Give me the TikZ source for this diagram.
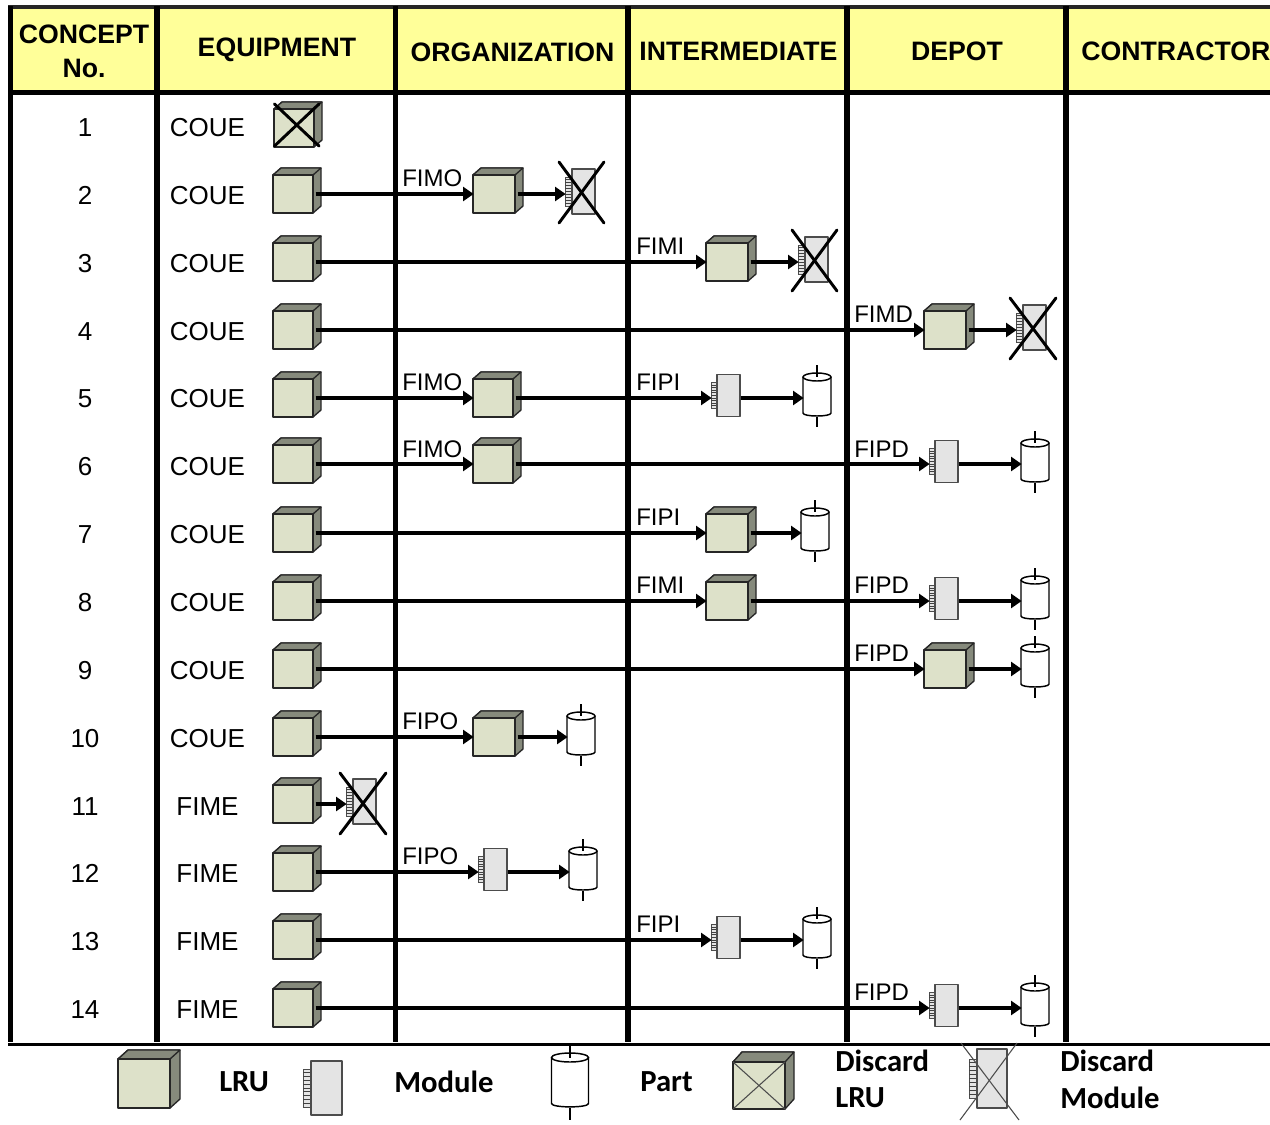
\documentclass[tikz,border=0pt]{standalone}
\usepackage{fontspec}
\setmainfont{Liberation Sans}
\newfontfamily\legendfont{Carlito}
\usetikzlibrary{arrows.meta}
\definecolor{hdr}{HTML}{FFFF99}
\definecolor{lrufront}{HTML}{DDE1C9}
\definecolor{lruside}{HTML}{868A7C}
\definecolor{modfill}{HTML}{E4E4E4}
\tikzset{
  x=0.75pt,y=-0.75pt,
  anchorbox/.style={inner sep=0pt,outer sep=0pt,anchor=north west},
  face/.style={draw=black!85,line width=1pt,line join=round},
  rule/.style={line width=4.2pt,draw=black},
  conn/.style={line width=2.5pt,draw=black,-{Triangle[length=8pt,width=10.5pt]},shorten >=-0.5pt,shorten <=2pt},
  connm/.style={conn,shorten <=0.5pt},
  xbig/.style={line width=2.2pt,line cap=round,draw=black},
  xthin/.style={line width=0.8pt,draw=black!70},
  headtxt/.style={font=\bfseries\fontsize{20}{22}\selectfont,inner sep=0pt},
  celltxt/.style={font=\fontsize{19.5}{22}\selectfont,inner sep=0pt},
  flow/.style={font=\fontsize{18}{20}\selectfont,inner sep=0pt,anchor=west},
  legendtxt/.style={font=\legendfont\bfseries\fontsize{23}{24}\selectfont,inner sep=0pt,anchor=west},
}
% name, x, ytop, front w, front h, depth x, depth y
\newcommand{\lruicon}[7]{%
  \node[anchorbox,minimum width=#4*0.75pt,minimum height=#5*0.75pt] (#1) at (#2,#3+#7) {};
  \draw[face,fill=lruside] (#2,#3+#7) -- ++(#6,-#7) -- ++(#4,0) -- ++(0,#5) -- ++(-#6,#7) -- ++(0,-#5) -- cycle;
  \draw[face,fill=lruside] (#2,#3+#7) -- ++(#6,-#7) -- ++(#4,0) -- ++(-#6,#7) -- cycle;
  \draw[face,fill=lrufront] (#2,#3+#7) rectangle ++(#4,#5);
}
\newcommand{\lrusmall}[3]{\lruicon{#1}{#2}{#3}{40}{38}{8}{7}}
\newcommand{\lrumid}[3]{\lruicon{#1}{#2}{#3}{42}{38}{8}{7}}
% name, body x, ytop, w, h, comb w, comb inset
\newcommand{\modicon}[7]{%
  \node[anchorbox,minimum width=#4*0.75pt+#6*0.75pt,minimum height=#5*0.75pt+3.75pt] (#1) at (#2-#6,#3) {};
  \draw[draw=black!70,line width=0.7pt,fill=modfill] (#2-#6,#3+#7) rectangle (#2,#3+#5-#7);
  \foreach \k in {1,...,9} {\draw[draw=black!75,line width=0.7pt] (#2-#6,{#3+#7+\k*(#5-2*#7)/10}) -- (#2,{#3+#7+\k*(#5-2*#7)/10});}
  \draw[face,draw=black!70,fill=modfill] (#2,#3) rectangle ++(#4,#5);
}
\newcommand{\modsmall}[3]{\modicon{#1}{#2}{#3}{23}{42}{6}{8}}
% name, cx, ytop, half w, side h, ry, stem
\newcommand{\particon}[7]{%
  \node[anchorbox,minimum width=2*#4*0.75pt,minimum height=50*0.75pt] (#1) at (#2-#4,#3) {};
  \draw[line width=1.1pt,fill=white] (#2-#4,#3+#6) -- (#2-#4,#3+#6+#5)
     .. controls (#2-#4,#3+#5+2*#6) and (#2+#4,#3+#5+2*#6) .. (#2+#4,#3+#6+#5) -- (#2+#4,#3+#6);
  \draw[line width=1.1pt,fill=white] (#2,#3+#6) ellipse [x radius=#4,y radius=#6];
  \draw[line width=0.9pt] (#2,#3-#7) -- (#2,#3+#6);
  \draw[line width=0.9pt] (#2,#3+#5+2*#6) -- (#2,#3+#5+2*#6+#7+2);
}
\newcommand{\partsmall}[3]{\particon{#1}{#2}{#3}{14}{36}{4}{8}}
\newcommand{\bigx}[4]{\draw[xbig] (#1,#2) -- (#3,#4); \draw[xbig] (#1,#4) -- (#3,#2);}
\begin{document}
\begin{tikzpicture}
\useasboundingbox (0,0) rectangle (1270,1124);
\fill[white] (0,0) rectangle (1270,1124);
% header band
\fill[hdr] (10,9) rectangle (1270,92);
\draw[line width=3.6pt,draw=black!85] (8,7) -- (1270,7);
\draw[rule] (8,92.5) -- (1270,92.5);
% columns
\foreach \cx in {10.5,157,395.5,628,847,1066} {\draw[rule] (\cx,6) -- (\cx,1042);}
\draw[line width=1.6pt] (8,1044.5) -- (1270,1044.5);
% header text
\node[headtxt] (h1a) at (84,34.5) {CONCEPT};
\node[headtxt] (h1b) at (84,68.5) {No.};
\node[headtxt] (h2) at (277,49.5) {EQUIPMENT};
\node[headtxt] (h3) at (512.5,52) {ORGANIZATION};
\node[headtxt] (h4) at (738.5,51.5) {INTERMEDIATE};
\node[headtxt] (h5) at (957,51.5) {DEPOT};
\node[headtxt,anchor=west] (h6) at (1081,51.5) {CONTRACTOR};
% row numbers and equipment names
\foreach \n/\yy/\eq in {1/127.7/COUE,2/195.7/COUE,3/263.7/COUE,4/331.7/COUE,5/398.7/COUE,6/466.7/COUE,7/534.7/COUE,8/602.7/COUE,9/670.7/COUE,10/738.7/COUE,11/806.7/FIME,12/873.7/FIME,13/941.7/FIME,14/1009.7/FIME} {
  \node[celltxt] (num\n) at (85,\yy) {\n};
  \node[celltxt] (eq\n) at (207.5,\yy) {\eq};
}
% source LRUs
\lrusmall{s1}{274}{102}
\lrusmall{s2}{273}{168}
\lrusmall{s3}{273}{236}
\lrusmall{s4}{273}{304}
\lrusmall{s5}{273}{372}
\lrusmall{s6}{273}{438}
\lrusmall{s7}{273}{507}
\lrusmall{s8}{273}{575}
\lrusmall{s9}{273}{643}
\lrusmall{s10}{273}{711}
\lrusmall{s11}{273}{778}
\lrusmall{s12}{273}{846}
\lrusmall{s13}{273}{914}
\lrusmall{s14}{273}{982}
% intermediate LRUs
\lrumid{a2}{473}{168}
\lrumid{a3}{706}{236}
\lrumid{a4}{924}{304}
\lrusmall{a5}{473}{372}
\lrusmall{a6}{473}{438}
\lrumid{a7}{706}{507}
\lrumid{a8}{706}{575}
\lrumid{a9}{924}{643}
\lrumid{a10}{473}{711}
% modules
\modicon{d2}{572}{169}{23}{45}{7}{8}
\modicon{d3}{805}{237}{23}{45}{7}{8}
\modicon{d4}{1023}{305}{23}{45}{7}{8}
\modicon{d11}{353}{779}{23}{45}{7}{8}
\modsmall{m5}{717}{374.5}
\modsmall{m6}{935}{440.5}
\modsmall{m8}{935}{577.5}
\modsmall{m12}{484}{848.5}
\modsmall{m13}{717}{916.5}
\modsmall{m14}{935}{984.5}
% parts
\partsmall{p5}{817}{373}
\partsmall{p6}{1035}{439}
\partsmall{p7}{815}{508}
\partsmall{p8}{1035}{576}
\partsmall{p9}{1035}{644}
\partsmall{p10}{581}{712}
\partsmall{p12}{583}{847}
\partsmall{p13}{817}{915}
\partsmall{p14}{1035}{983}
% connectors
\draw[conn] (s2.east) -- (a2.west);
\draw[conn] (a2.east) -- (d2.west);
\draw[conn] (s3.east) -- (a3.west);
\draw[conn] (a3.east) -- (d3.west);
\draw[conn] (s4.east) -- (a4.west);
\draw[conn] (a4.east) -- (d4.west);
\draw[conn] (s5.east) -- (a5.west);
\draw[conn] (a5.east) -- (m5.west);
\draw[connm] (m5.east) -- (p5.west);
\draw[conn] (s6.east) -- (a6.west);
\draw[conn] (a6.east) -- (m6.west);
\draw[connm] (m6.east) -- (p6.west);
\draw[conn] (s7.east) -- (a7.west);
\draw[conn] (a7.east) -- (p7.west);
\draw[conn] (s8.east) -- (a8.west);
\draw[conn] (a8.east) -- (m8.west);
\draw[connm] (m8.east) -- (p8.west);
\draw[conn] (s9.east) -- (a9.west);
\draw[conn] (a9.east) -- (p9.west);
\draw[conn] (s10.east) -- (a10.west);
\draw[conn] (a10.east) -- (p10.west);
\draw[conn] (s11.east) -- (d11.west);
\draw[conn] (s12.east) -- (m12.west);
\draw[connm] (m12.east) -- (p12.west);
\draw[conn] (s13.east) -- (m13.west);
\draw[connm] (m13.east) -- (p13.west);
\draw[conn] (s14.east) -- (m14.west);
\draw[connm] (m14.east) -- (p14.west);
% discard crosses
\bigx{274.5}{104}{319}{146}
\bigx{559}{162}{604}{223}
\bigx{792}{230}{837}{291}
\bigx{1010}{298}{1056}{359}
\bigx{340}{773}{386}{834}
% flow labels
\node[flow] (f2) at (402,178) {FIMO};
\node[flow] (f3) at (636,246) {FIMI};
\node[flow] (f4) at (854,314) {FIMD};
\node[flow] (f5a) at (402,382) {FIMO};
\node[flow] (f5b) at (636,382) {FIPI};
\node[flow] (f6a) at (402,449) {FIMO};
\node[flow] (f6b) at (854,449) {FIPD};
\node[flow] (f7) at (636,517) {FIPI};
\node[flow] (f8a) at (636,585) {FIMI};
\node[flow] (f8b) at (854,585) {FIPD};
\node[flow] (f9) at (854,653) {FIPD};
\node[flow] (f10) at (402,721) {FIPO};
\node[flow] (f12) at (402,856) {FIPO};
\node[flow] (f13) at (636,924) {FIPI};
\node[flow] (f14) at (854,992) {FIPD};
% legend
\lruicon{lg1}{118}{1050}{52}{49}{10}{9}
\node[legendtxt] (lt1) at (219,1082) {LRU};
\modicon{lg2}{311}{1061}{31}{54}{8}{8}
\node[legendtxt] (lt2) at (394,1082) {Module};
\particon{lg3}{570}{1053}{18.5}{46}{4.5}{10}
\node[legendtxt] (lt3) at (640,1082) {Part};
\lruicon{lg4}{733}{1052}{52}{47}{9}{10}
\draw[xthin] (733,1062) -- (785,1109);
\draw[xthin] (733,1109) -- (785,1062);
\node[legendtxt] (lt4a) at (835,1061) {Discard};
\node[legendtxt] (lt4b) at (835,1098) {LRU};
\modicon{lg5}{977}{1049}{30}{59}{8}{10}
\draw[xthin] (961,1043) -- (1019,1120);
\draw[xthin] (960,1120) -- (1017,1043);
\node[legendtxt] (lt5a) at (1060,1061) {Discard};
\node[legendtxt] (lt5b) at (1060,1098) {Module};
\end{tikzpicture}
\end{document}
